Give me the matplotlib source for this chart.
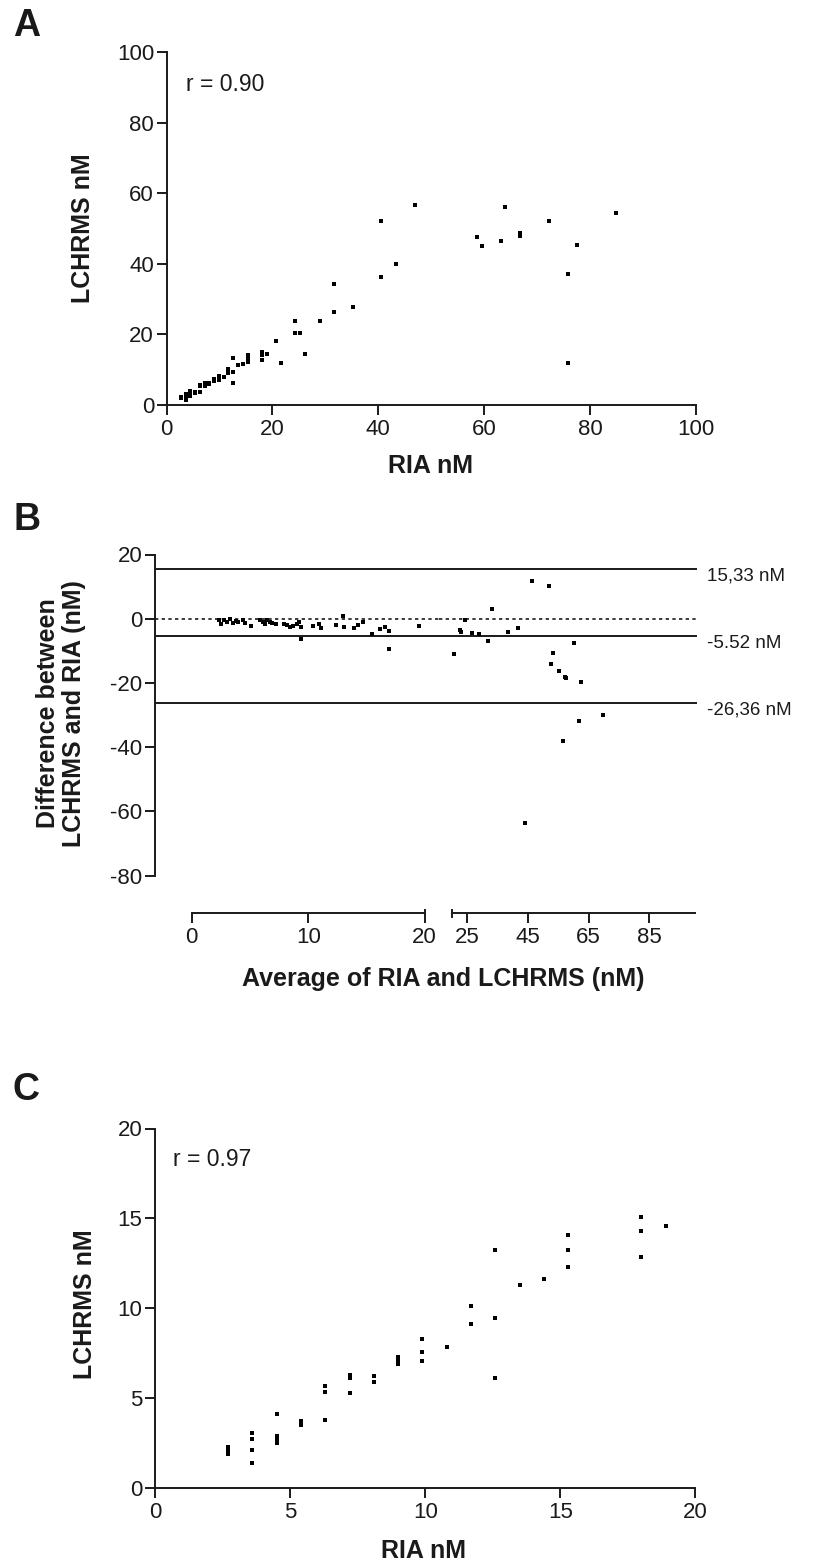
import matplotlib
matplotlib.use("Agg")

import numpy as np
import matplotlib.pyplot as plt
from matplotlib.transforms import blended_transform_factory, ScaledTranslation

plt.rcParams['font.family'] = ['Liberation Sans', 'DejaVu Sans']
plt.rcParams['axes.unicode_minus'] = False

# ---- data ----
# panel C (low range, also part of panel A)
ria_low = [2.7, 2.7, 2.7, 3.6, 3.6, 3.6, 3.6, 4.5, 4.5, 4.5, 4.5, 5.4, 5.4,
           6.3, 6.3, 6.3, 7.2, 7.2, 7.2, 8.1, 8.1, 9.0, 9.0, 9.0,
           9.9, 9.9, 9.9, 10.8, 11.7, 11.7, 12.6, 12.6, 12.6, 13.5, 14.4,
           15.3, 15.3, 15.3, 18.0, 18.0, 18.0, 18.9]
lc_low = [1.9, 2.1, 2.3, 1.4, 2.1, 2.75, 3.05, 2.5, 2.7, 2.9, 4.1, 3.5, 3.7,
          3.8, 5.35, 5.65, 5.3, 6.1, 6.3, 5.9, 6.25, 6.9, 7.1, 7.3,
          7.05, 7.55, 8.3, 7.85, 9.15, 10.15, 6.1, 9.45, 13.25, 11.3, 11.6,
          12.3, 13.25, 14.05, 12.85, 14.3, 15.1, 14.6]

# panel A, remaining points above 20 nM
ria_high = [20.6, 21.6, 24.3, 24.3, 25.3, 26.1, 28.9, 31.6, 31.6, 35.3, 40.6,
            40.6, 43.4, 46.9, 58.7, 59.6, 63.1, 64.0, 66.7, 66.7, 72.2, 75.8,
            75.8, 77.5, 84.8]
lc_high = [18.1, 11.9, 23.9, 20.5, 20.5, 14.6, 23.8, 26.5, 34.2, 27.9, 36.2,
           52.1, 40.1, 56.8, 47.7, 45.1, 46.6, 56.0, 48.9, 47.9, 52.2, 37.2,
           11.8, 45.4, 54.4]

# panel B, Bland-Altman (split x axis)
avg_left = [2.3, 2.5, 2.8, 3.0, 3.3, 3.5, 3.8, 4.0, 4.4, 4.6, 5.1, 5.9, 6.1,
            6.3, 6.5, 6.7, 6.9, 7.2, 7.9, 8.2, 8.4, 8.7, 9.0, 9.2, 9.4, 9.4,
            10.4, 10.9, 11.1, 12.4, 13.0, 13.1, 13.9, 14.3, 14.7, 15.5, 16.2,
            16.6, 16.9, 16.9, 19.5]
diff_left = [-0.3, -1.5, -0.5, -1.1, -0.2, -1.2, -0.6, -1.0, -0.3, -1.4, -2.2,
             -0.5, -1.1, -1.6, -0.5, -0.9, -1.3, -1.8, -1.6, -2.0, -2.6, -2.2,
             -1.5, -1.1, -2.6, -6.2, -2.2, -1.6, -2.9, -1.9, 0.7, -2.6, -2.9,
             -1.9, -1.0, -4.7, -3.3, -2.6, -3.9, -9.3, -2.3]
avg_right = [20.5, 22.5, 22.8, 24.2, 26.6, 28.9, 31.8, 33.1, 38.6, 41.9, 44.0,
             46.5, 52.0, 52.6, 53.3, 55.1, 56.7, 57.3, 57.7, 60.1, 61.7, 62.4,
             69.7]
diff_right = [-11.1, -3.5, -4.1, -0.3, -4.6, -4.8, -7.0, 2.9, -4.1, -2.9, -63.8,
              11.8, 10.1, -14.1, -10.6, -16.2, -38.2, -18.1, -18.5, -7.7, -32.0,
              -19.6, -30.1]
loa = [15.33, -5.52, -26.36]
loa_labels = ["15,33 nM", "-5.52 nM", "-26,36 nM"]

# ---- figure ----
W, H = 813, 1568
fig = plt.figure(figsize=(W / 100, H / 100), dpi=100)
ink = '#1a1a1a'
lw = 1.4
tick_fs = 16
lab_fs = 18
off = 27  # outward offset of the B x axis, points


def px(l, t, r, b):
    return [l / W, 1 - b / H, (r - l) / W, (b - t) / H]


def style(ax):
    for s in ['top', 'right']:
        ax.spines[s].set_visible(False)
    for s in ['left', 'bottom']:
        ax.spines[s].set_linewidth(lw)
        ax.spines[s].set_color(ink)
    ax.tick_params(direction='out', length=7, width=lw, color=ink,
                   labelsize=tick_fs, labelcolor=ink)
    ax.tick_params(axis='x', pad=3)
    ax.tick_params(axis='y', pad=2)


# Panel A
axA = fig.add_axes(px(166.5, 52.3, 696, 405))
style(axA)
axA.plot(ria_low + ria_high, lc_low + lc_high, 's', color='black',
         markersize=2.9, markeredgewidth=0, clip_on=False)
axA.set_xlim(0, 100)
axA.set_ylim(0, 100)
axA.set_xticks(np.arange(0, 101, 20))
axA.set_yticks(np.arange(0, 101, 20))
axA.text(0.036, 0.91, "r = 0.90", transform=axA.transAxes, fontsize=16.5,
         color=ink, va='center')
axA.set_xlabel("RIA nM", fontsize=lab_fs, fontweight='bold', va='center', color=ink)
axA.xaxis.set_label_coords(0.4995, -0.172)
axA.set_ylabel("LCHRMS nM", fontsize=lab_fs, fontweight='bold', va='center', color=ink)
axA.yaxis.set_label_coords(-0.158, 0.5)

# Panel B (broken x axis: two axes side by side)
b_top, b_bot = 554.5, 875.5
axL = fig.add_axes(px(155, b_top, 438.5, b_bot))
axR = fig.add_axes(px(438.5, b_top, 697, b_bot))
for ax in (axL, axR):
    style(ax)
    ax.set_ylim(-80, 20)
    ax.spines['bottom'].set_position(('outward', off))
    for v in loa:
        ax.axhline(v, color=ink, lw=lw)
    ax.axhline(0, color=ink, lw=1.2, ls=(0, (2, 2)))
axL.plot(avg_left, diff_left, 's', color='black', markersize=2.6, markeredgewidth=0)
axR.plot(avg_right, diff_right, 's', color='black', markersize=2.6, markeredgewidth=0)
axL.set_xlim(-3.16, 21.19)
axR.set_xlim(15.55, 100.72)
axL.spines['bottom'].set_bounds(0, 20)
axR.spines['bottom'].set_bounds(20, 100)
axL.set_xticks([0, 10, 20])
axR.set_xticks([25, 45, 65, 85])
axL.set_yticks(np.arange(-80, 21, 20))
axR.spines['left'].set_visible(False)
axR.tick_params(axis='y', left=False, labelleft=False)

# break marks at the split
for ax, lo in ((axL, 0.0), (axR, -0.016)):
    tr = blended_transform_factory(ax.transData, ax.transAxes) + \
        ScaledTranslation(0, -off / 72, fig.dpi_scale_trans)
    ax.plot([20, 20], [lo, 0.014], color=ink, lw=lw, transform=tr,
            clip_on=False, solid_capstyle='butt')

for v, t in zip(loa, loa_labels):
    axR.annotate(t, xy=(1, v), xycoords=('axes fraction', 'data'),
                 xytext=(7, -5), textcoords='offset points',
                 fontsize=13.5, color=ink, va='center', ha='left')

axL.set_ylabel("Difference between\nLCHRMS and RIA (nM)", fontsize=lab_fs,
               fontweight='bold', va='center', color=ink, linespacing=1.1)
axL.yaxis.set_label_coords(-0.332, 0.506)
fig.text(443 / W, 1 - 979 / H, "Average of RIA and LCHRMS (nM)", fontsize=lab_fs,
         fontweight='bold', ha='center', va='center', color=ink)

# Panel C
axC = fig.add_axes(px(155, 1128.5, 695.4, 1488))
style(axC)
axC.plot(ria_low, lc_low, 's', color='black', markersize=2.5,
         markeredgewidth=0, clip_on=False)
axC.set_xlim(0, 20)
axC.set_ylim(0, 20)
axC.set_xticks(np.arange(0, 21, 5))
axC.set_yticks(np.arange(0, 21, 5))
axC.text(0.033, 0.915, "r = 0.97", transform=axC.transAxes, fontsize=16.5,
         color=ink, va='center')
axC.set_xlabel("RIA nM", fontsize=lab_fs, fontweight='bold', va='center', color=ink)
axC.xaxis.set_label_coords(0.496, -0.174)
axC.set_ylabel("LCHRMS nM", fontsize=lab_fs, fontweight='bold', va='center', color=ink)
axC.yaxis.set_label_coords(-0.1295, 0.51)

# panel letters
for letter, yc in (("A", 26), ("B", 520), ("C", 1090)):
    fig.text(13 / W, 1 - yc / H, letter, fontsize=27, fontweight='bold',
             color=ink, ha='left', va='center')

fig.savefig("out.png", dpi=100)
